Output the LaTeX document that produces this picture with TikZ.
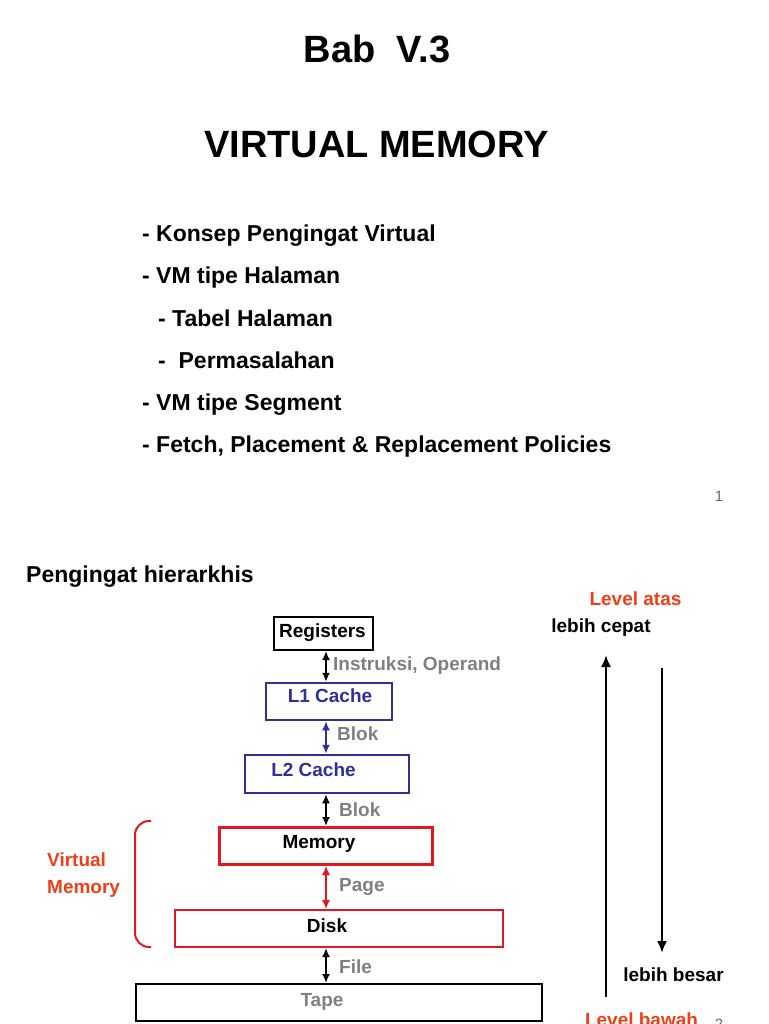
\documentclass[tikz,border=0pt]{standalone}
\usepackage{fontspec}
\setmainfont{Liberation Sans}
\usetikzlibrary{arrows.meta}
\definecolor{vmred}{RGB}{238,64,24}
\definecolor{boxred}{RGB}{228,22,32}
\definecolor{cacheblue}{RGB}{48,48,150}
\definecolor{lblgray}{RGB}{128,128,128}
\begin{document}
\begin{tikzpicture}[x=1pt,y=-1pt]
    \tikzset{txt/.style={font=\bfseries\fontsize{19}{22}\selectfont,inner sep=0pt,anchor=base},
             lbl/.style={txt,text=lblgray,anchor=base west},
             item/.style={font=\bfseries\fontsize{23}{27}\selectfont,inner sep=0pt,anchor=base west},
             titel/.style={font=\bfseries\fontsize{38}{44}\selectfont,inner sep=0pt,anchor=base},
             pgno/.style={font=\fontsize{15}{18}\selectfont,text=gray!80!black,inner sep=0pt,anchor=base},
             box/.style={draw,line width=2pt,inner sep=0pt},
             link/.style={line width=2pt,{Latex[length=9pt,width=8pt]}-{Latex[length=9pt,width=8pt]}},
             level/.style={line width=2pt,-{Latex[length=12pt,width=10pt]}}};
    \useasboundingbox (0,0) rectangle (768,1024);
    % slide 1
    \node[titel] (bab) at (377,63) {Bab~~V.3};
    \node[titel] (judul) at (376.5,158) {VIRTUAL MEMORY};
    \node[item] (i1) at (142,241) {- Konsep Pengingat Virtual};
    \node[item] (i2) at (142,283) {- VM tipe Halaman};
    \node[item] (i3) at (158,326) {- Tabel Halaman};
    \node[item] (i4) at (158,368) {-~~Permasalahan};
    \node[item] (i5) at (142,410) {- VM tipe Segment};
    \node[item] (i6) at (142,452) {- Fetch, Placement \& Replacement Policies};
    \node[pgno] (pg1) at (719,501) {1};
    % slide 2
    \node[item] (hier) at (26,582) {Pengingat hierarkhis};
    \node[box,minimum width=99,minimum height=33] (reg) at (323.5,633.5) {};
    \node[box,cacheblue,line width=2.5pt,minimum width=126,minimum height=37] (l1) at (329,701.5) {};
    \node[box,cacheblue,line width=2.5pt,minimum width=164,minimum height=38] (l2) at (327,774) {};
    \node[box,boxred,line width=3pt,minimum width=213,minimum height=37] (mem) at (326,846) {};
    \node[box,boxred,minimum width=328,minimum height=37] (disk) at (339,928.5) {};
    \node[box,minimum width=406,minimum height=37] (tape) at (339,1002.5) {};
    \node[txt] (regt) at (322.5,637) {Registers};
    \node[txt,text=cacheblue] (l1t) at (330,702) {L1 Cache};
    \node[txt,text=cacheblue] (l2t) at (313.5,776) {L2 Cache};
    \node[txt] (memt) at (319,848) {Memory};
    \node[txt] (diskt) at (327,932) {Disk};
    \node[txt,text=lblgray] (tapet) at (322,1006) {Tape};
    \coordinate (ax) at (326,0);
    \draw[link] (reg.south -| ax) -- (l1.north -| ax);
    \draw[link,cacheblue,line width=2.5pt] (l1.south -| ax) -- (l2.north -| ax);
    \draw[link] (l2.south -| ax) -- (mem.north -| ax);
    \draw[link,boxred,line width=1.5pt] (mem.south -| ax) -- (disk.north -| ax);
    \draw[link] (disk.south -| ax) -- (tape.north -| ax);
    \node[lbl] (ins) at (333,670) {Instruksi, Operand};
    \node[lbl] (blok1) at (337,740) {Blok};
    \node[lbl] (blok2) at (339,816) {Blok};
    \node[lbl] (page) at (339,891) {Page};
    \node[lbl] (file) at (339,973) {File};
    % virtual memory
    \draw[boxred,line width=2pt,rounded corners=14pt] (151,821) -- (135,821) -- (135,947) -- (151,947);
    \node[txt,text=vmred,anchor=base west] (vm1) at (47,866) {Virtual};
    \node[txt,text=vmred,anchor=base west] (vm2) at (47,893) {Memory};
    % level
    \node[txt,text=vmred] (atas) at (635.5,605) {Level atas};
    \node[txt] (cepat) at (601,632) {lebih cepat};
    \coordinate (upbot) at (606,997);
    \coordinate (uptop) at (606,655);
    \coordinate (dntop) at (662,668);
    \coordinate (dnbot) at (662,953);
    \draw[level] (upbot) -- (uptop);
    \draw[level] (dntop) -- (dnbot);
    \node[txt] (besar) at (673.5,981) {lebih besar};
    \node[txt,text=vmred] (bawah) at (641.5,1026) {Level bawah};
    \node[pgno] (pg2) at (719,1029) {2};
\end{tikzpicture}
\end{document}
